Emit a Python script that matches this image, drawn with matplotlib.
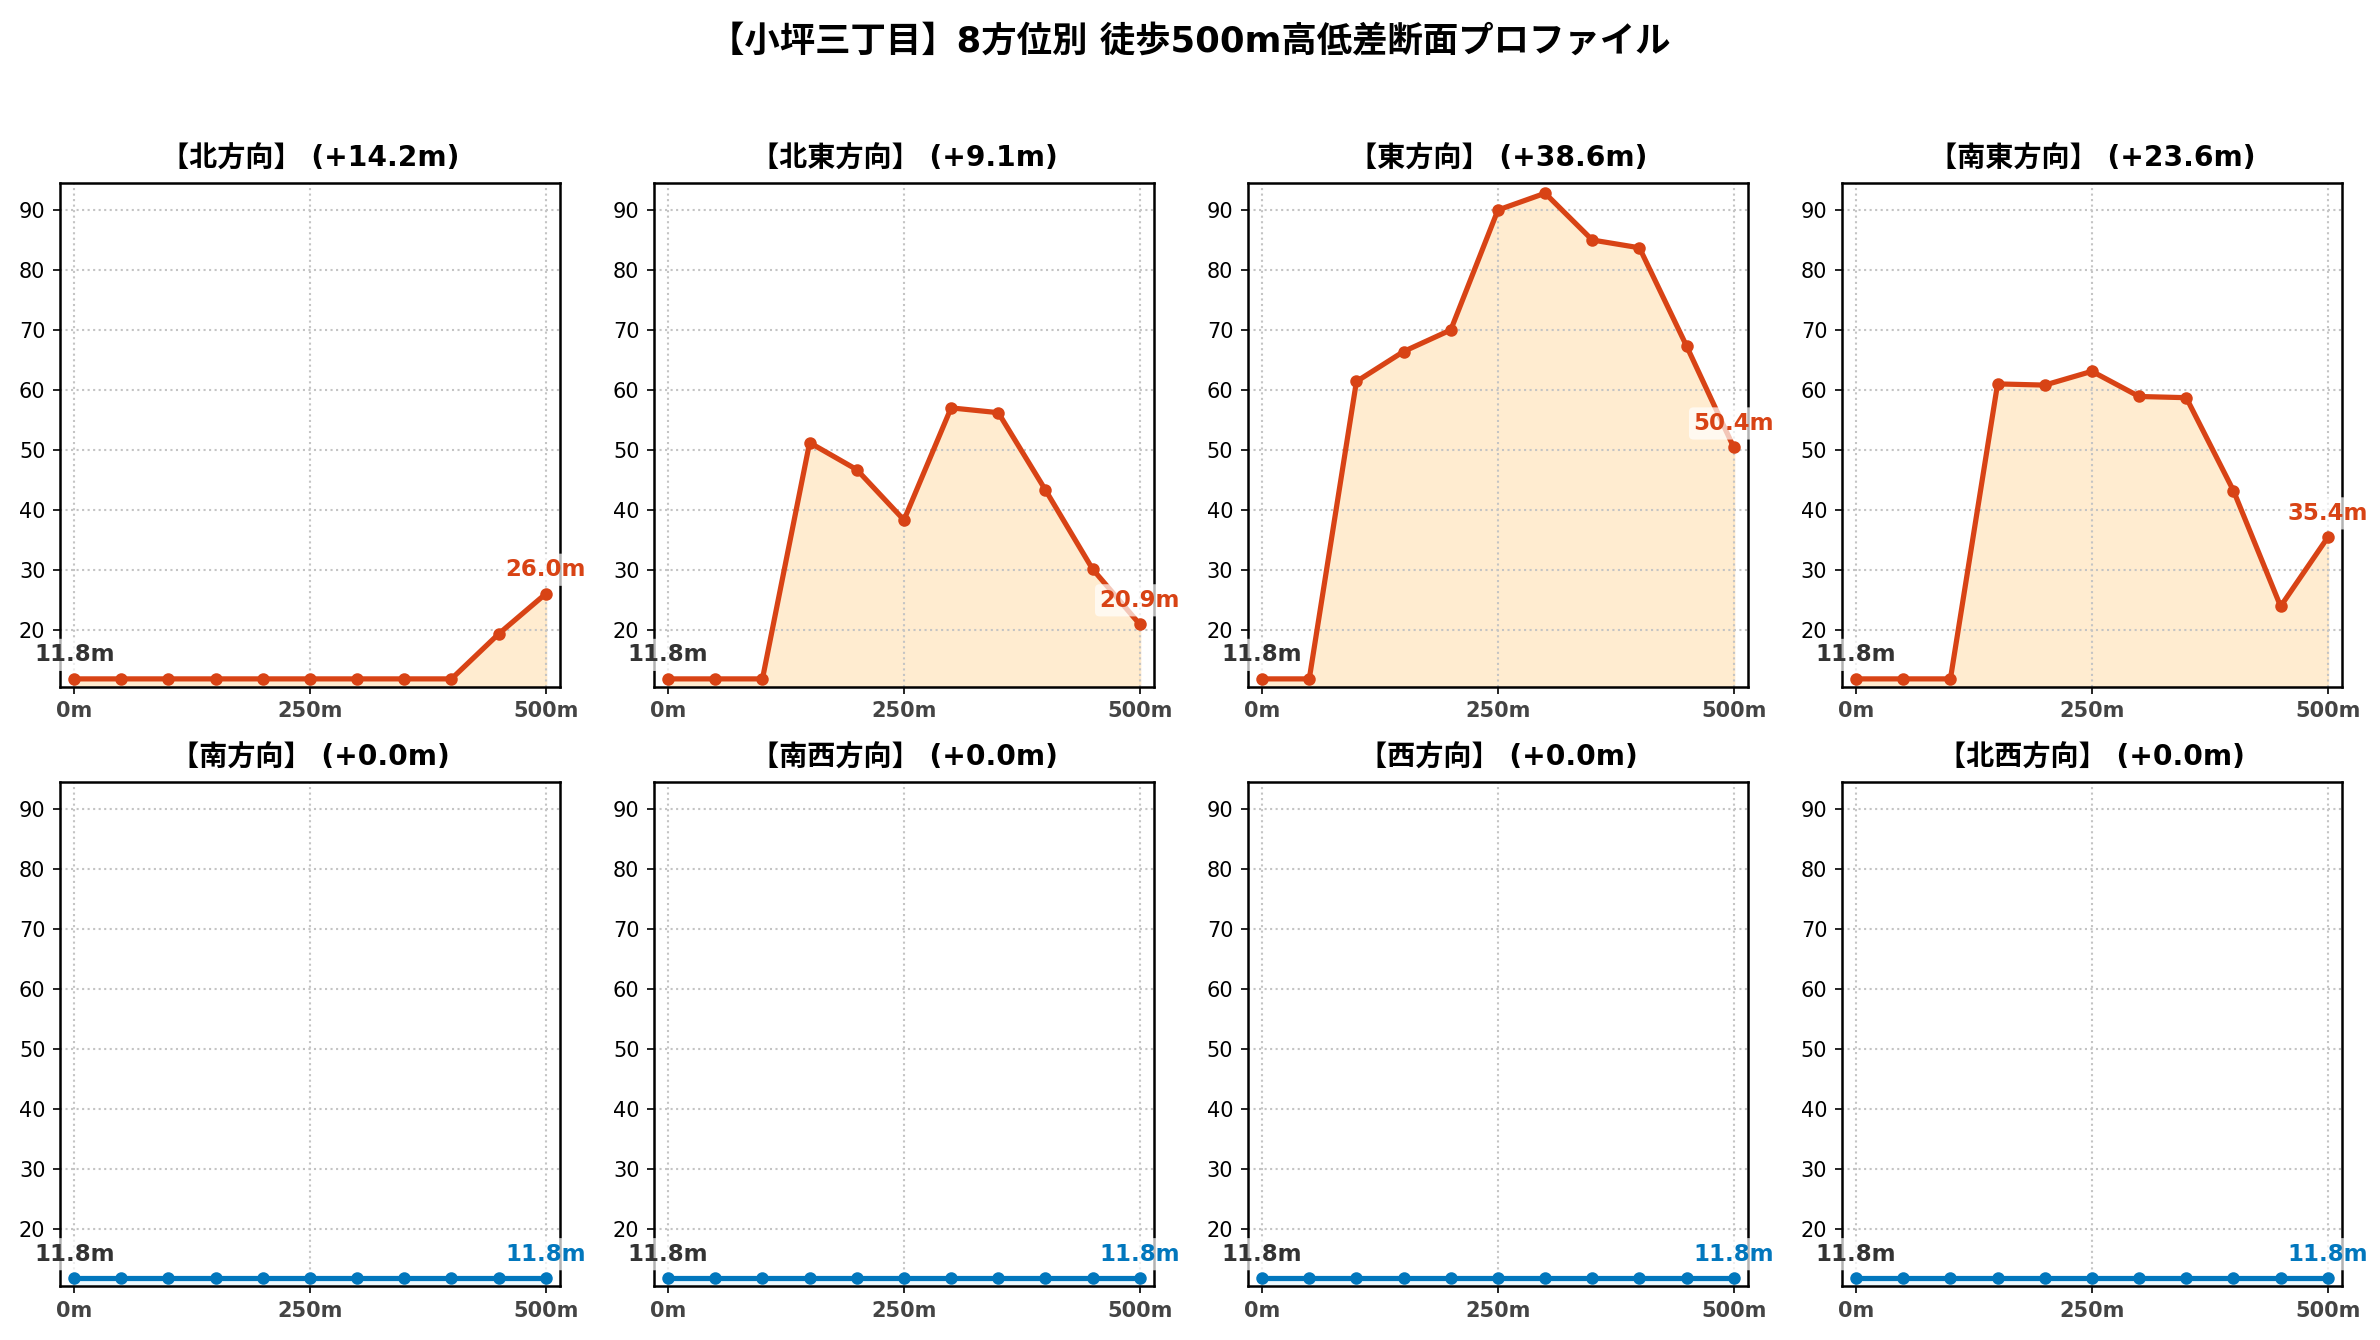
import matplotlib
matplotlib.use("Agg")
import matplotlib.pyplot as plt
import numpy as np

plt.rcParams['font.family'] = ['DejaVu Sans', 'Noto Sans CJK JP']
plt.rcParams['axes.unicode_minus'] = False

# distance along each walking direction (m)
distances = [0, 50, 100, 150, 200, 250, 300, 350, 400, 450, 500]

directions = ["北", "北東", "東", "南東", "南", "南西", "西", "北西"]

elev_n = [11.8, 11.8, 11.8, 11.8, 11.8, 11.8, 11.8, 11.8, 11.8, 19.3, 26.0]
elev_ne = [11.8, 11.8, 11.8, 51.2, 46.7, 38.3, 57.0, 56.2, 43.3, 30.1, 20.9]
elev_e = [11.8, 11.8, 61.4, 66.4, 70.0, 90.0, 92.8, 85.0, 83.7, 67.3, 50.4]
elev_se = [11.8, 11.8, 11.8, 61.0, 60.8, 63.1, 58.9, 58.7, 43.2, 23.9, 35.4]
elev_s = [11.8] * 11
elev_sw = [11.8] * 11
elev_w = [11.8] * 11
elev_nw = [11.8] * 11

elevations = [elev_n, elev_ne, elev_e, elev_se, elev_s, elev_sw, elev_w, elev_nw]

x_ticks = [0, 250, 500]
x_tick_labels = ["0m", "250m", "500m"]

UP_COLOR = "#d84315"
UP_FILL = "#ffe0b2"
FLAT_COLOR = "#0277bd"
FLAT_FILL = "#e1f5fe"


def draw_profile(ax, name, x, y):
    diff = y[-1] - y[0]
    if diff > 0:
        color, fill = UP_COLOR, UP_FILL
    else:
        color, fill = FLAT_COLOR, FLAT_FILL

    ax.fill_between(x, y, 0, color=fill, alpha=0.6, zorder=1)
    ax.plot(x, y, color=color, lw=2.5, marker="o", ms=5, zorder=3)

    ax.set_title(f"【{name}方向】 (+{diff:.1f}m)", fontsize=13.5, fontweight="bold", pad=8)
    ax.set_xlim(-15, 515)
    ax.set_ylim(10.5, 94.5)
    ax.set_yticks(np.arange(20, 91, 10))
    ax.set_xticks(x_ticks)
    ax.set_xticklabels(x_tick_labels, fontweight="bold", color="#444444", fontsize=10)
    ax.tick_params(axis="y", labelsize=10)
    ax.grid(True, linestyle=":", color="#c4c4c4", lw=1)
    for sp in ax.spines.values():
        sp.set_linewidth(1.2)

    ax.annotate(f"{y[0]:.1f}m", (x[0], y[0]), xytext=(0, 6), textcoords="offset points",
                ha="center", va="bottom", fontsize=11, fontweight="bold", color="#333333",
                bbox=dict(boxstyle="round,pad=0.2", fc="white", ec="none", alpha=0.7), zorder=5)
    ax.annotate(f"{y[-1]:.1f}m", (x[-1], y[-1]), xytext=(0, 6), textcoords="offset points",
                ha="center", va="bottom", fontsize=11, fontweight="bold", color=color,
                bbox=dict(boxstyle="round,pad=0.2", fc="white", ec="none", alpha=0.7), zorder=5)


fig, axes = plt.subplots(2, 4, figsize=(2380 / 150, 1340 / 150), dpi=150)
fig.subplots_adjust(left=0.0252, right=0.984, top=0.8634, bottom=0.0403, wspace=0.188, hspace=0.19)

for ax, name, elev in zip(axes.flat, directions, elevations):
    draw_profile(ax, name, distances, elev)

fig.suptitle("【小坪三丁目】8方位別 徒歩500m高低差断面プロファイル", fontsize=17, fontweight="bold", y=0.982)

plt.savefig("out.png", dpi=150)
